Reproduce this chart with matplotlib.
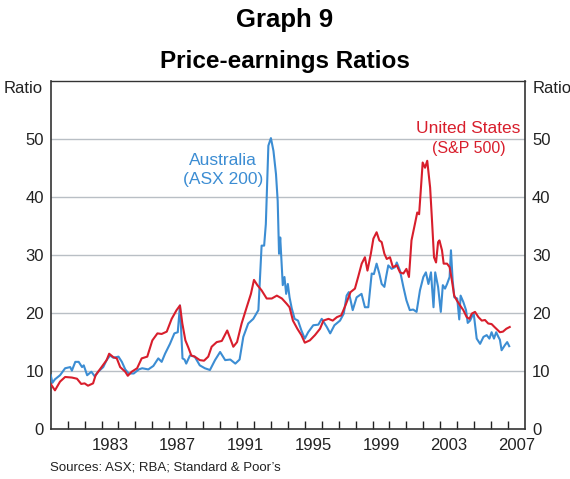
import matplotlib
matplotlib.use("Agg")
import matplotlib.pyplot as plt
from matplotlib.ticker import FixedLocator, NullFormatter

plt.rcParams["font.family"] = ["Liberation Sans", "DejaVu Sans"]

# Price-earnings ratios (decimal year, ratio)
au_years = [1980.0, 1980.1, 1980.25, 1980.55, 1980.85, 1981.15, 1981.25, 1981.45, 1981.65, 1981.85,
            1981.95, 1982.15, 1982.4, 1982.6, 1982.8, 1983.1, 1983.3, 1983.5, 1983.7, 1984.0,
            1984.2, 1984.4, 1984.6, 1984.9, 1985.2, 1985.4, 1985.76, 1986.06, 1986.35, 1986.55,
            1986.75, 1987.04, 1987.3, 1987.5, 1987.63, 1987.78, 1987.9, 1988.0, 1988.22, 1988.5,
            1988.8, 1989.1, 1989.4, 1989.7, 1990.0, 1990.3, 1990.6, 1990.9, 1991.15, 1991.37,
            1991.66, 1991.96, 1992.26, 1992.45, 1992.6, 1992.7, 1992.85, 1993.0, 1993.15, 1993.3,
            1993.4, 1993.48, 1993.55, 1993.7, 1993.8, 1993.9, 1994.0, 1994.1, 1994.23, 1994.4,
            1994.6, 1994.8, 1995.0, 1995.2, 1995.5, 1995.8, 1996.0, 1996.3, 1996.5, 1996.75,
            1997.08, 1997.3, 1997.47, 1997.6, 1997.83, 1998.06, 1998.35, 1998.55, 1998.75, 1998.95,
            1999.08, 1999.24, 1999.4, 1999.54, 1999.7, 1999.8, 1999.93, 2000.13, 2000.33, 2000.43,
            2000.62, 2000.82, 2001.0, 2001.2, 2001.4, 2001.6, 2001.8, 2002.0, 2002.15, 2002.3,
            2002.45, 2002.6, 2002.7, 2002.87, 2003.03, 2003.15, 2003.28, 2003.4, 2003.55, 2003.63,
            2003.73, 2003.83, 2004.0, 2004.12, 2004.2, 2004.36, 2004.52, 2004.62, 2004.76, 2004.97,
            2005.15, 2005.35, 2005.55, 2005.74, 2005.9, 2006.03, 2006.17, 2006.3, 2006.43, 2006.52,
            2006.62, 2006.82, 2006.95, 2007.07]
au_values = [9.3, 8.0, 8.6, 9.3, 10.5, 10.7, 10.1, 11.6, 11.6, 10.7,
             11.0, 9.3, 9.9, 9.1, 9.9, 10.7, 11.9, 12.7, 12.3, 12.5,
             11.6, 10.3, 9.6, 9.6, 10.3, 10.5, 10.3, 10.9, 12.2, 11.6,
             13.0, 14.7, 16.5, 16.7, 21.3, 12.2, 12.0, 11.3, 12.7, 12.5,
             11.0, 10.5, 10.2, 11.9, 13.3, 11.9, 12.0, 11.3, 12.0, 15.9,
             18.2, 19.0, 20.5, 31.6, 31.6, 35.3, 48.8, 50.1, 47.9, 43.9,
             39.3, 30.2, 33.0, 24.8, 26.2, 23.3, 25.0, 22.7, 20.8, 19.0,
             18.7, 17.0, 15.6, 16.7, 17.9, 18.0, 19.0, 17.6, 16.5, 17.9,
             18.7, 19.9, 23.0, 23.6, 20.5, 22.7, 23.3, 21.0, 21.0, 26.8,
             26.7, 28.5, 26.8, 25.0, 24.5, 26.2, 28.2, 27.6, 27.9, 28.7,
             27.3, 24.5, 22.2, 20.5, 20.6, 20.2, 23.9, 26.2, 27.0, 25.0,
             27.0, 21.0, 27.0, 24.5, 20.2, 24.8, 24.2, 25.0, 26.2, 30.8,
             25.6, 22.7, 22.5, 18.9, 23.0, 21.9, 20.5, 18.3, 18.7, 20.0,
             15.6, 14.7, 15.9, 16.2, 15.6, 16.7, 15.6, 16.7, 15.9, 15.4,
             13.6, 14.5, 15.0, 14.3]

us_years = [1980.0, 1980.25, 1980.55, 1980.85, 1981.25, 1981.55, 1981.8, 1982.0, 1982.2, 1982.5,
            1982.65, 1983.0, 1983.3, 1983.45, 1983.7, 1983.9, 1984.1, 1984.4, 1984.55, 1984.78,
            1985.1, 1985.37, 1985.7, 1986.0, 1986.3, 1986.55, 1986.85, 1987.14, 1987.43, 1987.63,
            1987.77, 1987.95, 1988.12, 1988.3, 1988.5, 1988.8, 1989.05, 1989.3, 1989.5, 1989.8,
            1990.1, 1990.42, 1990.6, 1990.78, 1991.0, 1991.27, 1991.57, 1991.82, 1992.0, 1992.2,
            1992.45, 1992.75, 1993.05, 1993.35, 1993.65, 1993.93, 1994.1, 1994.3, 1994.56, 1994.8,
            1995.0, 1995.3, 1995.6, 1995.9, 1996.1, 1996.4, 1996.65, 1996.9, 1997.15, 1997.4,
            1997.7, 1997.96, 1998.15, 1998.36, 1998.55, 1998.7, 1998.9, 1999.05, 1999.24, 1999.4,
            1999.54, 1999.7, 1999.84, 2000.03, 2000.2, 2000.43, 2000.62, 2000.82, 2001.0, 2001.15,
            2001.3, 2001.5, 2001.64, 2001.75, 2001.86, 2001.96, 2002.1, 2002.23, 2002.4, 2002.5,
            2002.63, 2002.75, 2002.87, 2002.95, 2003.1, 2003.2, 2003.4, 2003.55, 2003.67, 2003.82,
            2003.97, 2004.17, 2004.36, 2004.56, 2004.72, 2004.86, 2005.05, 2005.25, 2005.45, 2005.64,
            2005.83, 2006.03, 2006.2, 2006.52, 2006.7, 2006.9, 2007.1]
us_values = [7.8, 6.7, 8.2, 9.0, 8.9, 8.7, 7.8, 7.9, 7.5, 7.9,
             9.3, 10.7, 11.9, 13.0, 12.4, 12.2, 10.7, 9.9, 9.2, 9.9,
             10.5, 12.2, 12.5, 15.3, 16.5, 16.4, 16.8, 19.0, 20.5, 21.3,
             18.2, 15.3, 14.1, 12.7, 12.5, 11.9, 11.8, 12.5, 14.2, 15.0,
             15.2, 17.0, 15.6, 14.2, 15.0, 18.2, 21.0, 23.3, 25.7, 24.8,
             23.9, 22.5, 22.5, 23.0, 22.5, 21.6, 21.0, 18.7, 17.3, 16.2,
             14.9, 15.3, 16.2, 17.3, 18.7, 19.0, 18.7, 19.3, 19.6, 21.3,
             23.6, 24.2, 26.2, 28.5, 29.6, 27.3, 30.2, 32.8, 33.9, 32.5,
             32.2, 30.2, 29.3, 29.6, 27.9, 28.2, 27.0, 26.8, 27.6, 26.2,
             32.5, 35.3, 37.3, 37.0, 41.6, 45.9, 45.0, 46.2, 41.6, 36.5,
             29.6, 28.7, 32.2, 32.5, 30.8, 28.5, 28.5, 27.9, 25.9, 23.0,
             22.2, 21.3, 20.5, 19.3, 19.0, 19.9, 20.2, 19.3, 18.7, 18.8,
             18.2, 18.1, 17.6, 16.7, 16.8, 17.3, 17.6]

year_labels = [1983, 1987, 1991, 1995, 1999, 2003, 2007]
y_ticks = [0, 10, 20, 30, 40, 50]

AU_BLUE = "#3c8dd3"
US_RED = "#d81e2c"

fig = plt.figure(figsize=(5.7, 4.79), dpi=100)
ax = fig.add_axes([0.089, 0.1038, 0.832, 0.728])

ax.plot(au_years, au_values, color=AU_BLUE, lw=1.5, zorder=3)
ax.plot(us_years, us_values, color=US_RED, lw=1.5, zorder=4)

ax.set_xlim(1980, 2008)
ax.set_ylim(0, 60)

# horizontal grid lines
for v in y_ticks[1:]:
    ax.axhline(v, color="#b9bfc5", lw=1.0, zorder=1)

# year ticks on the bottom, labels centred on the year
ax.xaxis.set_minor_locator(FixedLocator(range(1981, 2008)))
ax.xaxis.set_minor_formatter(NullFormatter())
ax.set_xticks([y + 0.5 for y in year_labels])
ax.set_xticklabels([str(y) for y in year_labels], fontsize=12)
ax.tick_params(axis="x", which="major", length=0, pad=6, colors="#222222")
ax.tick_params(axis="x", which="minor", direction="in", length=6, width=1.0, color="#222222")

ax.set_yticks(y_ticks)
ax.set_yticklabels([str(v) for v in y_ticks], fontsize=12)
ax.tick_params(axis="y", which="both", length=0, pad=5, colors="#222222",
               left=True, right=True, labelleft=True, labelright=True)

for side in ["left", "right", "top", "bottom"]:
    ax.spines[side].set_color("#333333")
    ax.spines[side].set_linewidth(1.2)
ax.spines["top"].set_linewidth(1.0)

# series labels
ax.text(1990.17, 46.3, "Australia", color=AU_BLUE, fontsize=12.5, ha="center", va="center")
ax.text(1990.17, 43.0, "(ASX 200)", color=AU_BLUE, fontsize=12.5, ha="center", va="center")
ax.text(2004.66, 51.7, "United States", color=US_RED, fontsize=12.5, ha="center", va="center")
ax.text(2004.66, 48.3, "(S&P 500)", color=US_RED, fontsize=11.5, ha="center", va="center")

fig.text(0.041, 0.815, "Ratio", fontsize=12, ha="center", va="center", color="#222222")
fig.text(0.968, 0.815, "Ratio", fontsize=12, ha="center", va="center", color="#222222")

fig.text(0.5, 0.958, "Graph 9", fontsize=18.5, fontweight="bold", ha="center", va="center")
fig.text(0.5, 0.872, "Price-earnings Ratios", fontsize=17.5, fontweight="bold",
         ha="center", va="center")

fig.text(0.088, 0.025, "Sources: ASX; RBA; Standard & Poor\u2019s", fontsize=9.5,
         ha="left", va="center", color="#222222")

plt.savefig("out.png", dpi=100)
plt.close()
